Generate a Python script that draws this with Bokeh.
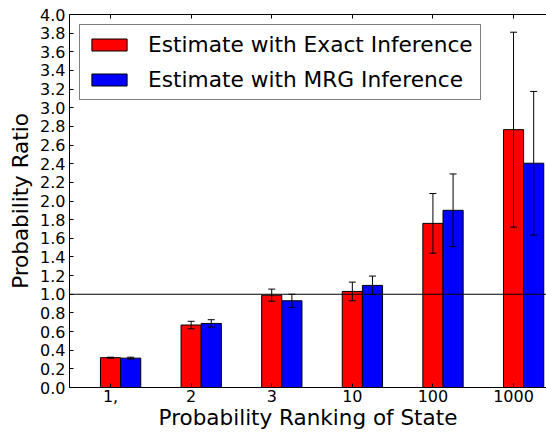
from bokeh.plotting import figure
from bokeh.models import (Range1d, Span, Whisker, ColumnDataSource, LinearAxis,
                          FixedTicker, Legend, LegendItem, TeeHead, NumeralTickFormatter)
from bokeh.embed import file_html
from bokeh.resources import INLINE

categories = ["1,", "2", "3", "10", "100", "1000"]
exact_vals = [0.32, 0.67, 0.99, 1.03, 1.76, 2.765]
exact_errs = [0.005, 0.04, 0.065, 0.10, 0.32, 1.045]
mrg_vals = [0.315, 0.687, 0.93, 1.095, 1.90, 2.405]
mrg_errs = [0.01, 0.04, 0.07, 0.10, 0.39, 0.77]
y_ticks = [0.0, 0.2, 0.4, 0.6, 0.8, 1.0, 1.2, 1.4, 1.6, 1.8, 2.0,
           2.2, 2.4, 2.6, 2.8, 3.0, 3.2, 3.4, 3.6, 3.8, 4.0]
reference_line = 1.0

FONT = "DejaVu Sans"
bar_w = 0.25
idx = list(range(len(categories)))
x_exact = [i for i in idx]
x_mrg = [i + bar_w for i in idx]

p = figure(width=546, height=433, output_backend="svg", toolbar_location=None,
           x_range=Range1d(-0.509, 5.409), y_range=Range1d(0, 4),
           min_border_left=69, min_border_right=0, min_border_top=14, min_border_bottom=46,
           x_axis_label="Probability Ranking of State", y_axis_label="Probability Ratio")
p.outline_line_color = None
p.xgrid.visible = False
p.ygrid.visible = False
p.background_fill_color = "white"
p.border_fill_color = "white"

src_e = ColumnDataSource(dict(x=x_exact, top=exact_vals,
                              upper=[v + e for v, e in zip(exact_vals, exact_errs)],
                              lower=[v - e for v, e in zip(exact_vals, exact_errs)]))
src_m = ColumnDataSource(dict(x=x_mrg, top=mrg_vals,
                              upper=[v + e for v, e in zip(mrg_vals, mrg_errs)],
                              lower=[v - e for v, e in zip(mrg_vals, mrg_errs)]))

r1 = p.vbar(x="x", top="top", width=bar_w, source=src_e, fill_color="#ff0000",
            line_color="black", line_width=1)
r2 = p.vbar(x="x", top="top", width=bar_w, source=src_m, fill_color="#0000ff",
            line_color="black", line_width=1)

for src in (src_e, src_m):
    w = Whisker(base="x", upper="upper", lower="lower", source=src,
                line_color="black", line_width=1, level="annotation",
                upper_head=TeeHead(size=7, line_color="black", line_width=1),
                lower_head=TeeHead(size=7, line_color="black", line_width=1))
    p.add_layout(w)

p.add_layout(Span(location=reference_line, dimension="width", line_color="black", line_width=1))

xt = FixedTicker(ticks=idx, minor_ticks=[])
p.xaxis.ticker = xt
p.xaxis.major_label_overrides = {i: c for i, c in zip(idx, categories)}
p.yaxis.ticker = FixedTicker(ticks=y_ticks, minor_ticks=[])
p.yaxis.formatter = NumeralTickFormatter(format="0.0")

for ax in (p.xaxis[0], p.yaxis[0]):
    ax.major_tick_in = 4
    ax.major_tick_out = 0
    ax.minor_tick_in = 0
    ax.minor_tick_out = 0
    ax.axis_line_color = "black"
    ax.major_tick_line_color = "black"
    ax.major_label_text_font = FONT
    ax.major_label_text_font_size = "16px"
    ax.major_label_text_color = "black"
    ax.axis_label_text_font = FONT
    ax.axis_label_text_font_size = "21.5px"
    ax.axis_label_text_font_style = "normal"
    ax.axis_label_text_color = "black"

p.xaxis.major_label_standoff = 2
p.xaxis.axis_label_standoff = 0
p.yaxis.major_label_standoff = 4
p.yaxis.axis_label_standoff = 4

top_ax = LinearAxis(ticker=xt, major_tick_in=4, major_tick_out=0, minor_tick_in=0,
                    minor_tick_out=0, major_label_standoff=0, axis_line_color="black",
                    major_label_overrides={i: "" for i in idx})
p.add_layout(top_ax, "above")

legend = Legend(items=[LegendItem(label="Estimate with Exact Inference", renderers=[r1]),
                       LegendItem(label="Estimate with MRG Inference", renderers=[r2])],
                location="top_left", margin=10, padding=7, spacing=10,
                glyph_width=44, glyph_height=15, label_standoff=17,
                label_text_font=FONT, label_text_font_size="21.7px", label_text_color="black",
                border_line_color="black", border_line_width=1, background_fill_color="white",
                background_fill_alpha=1.0)
p.add_layout(legend)

open("out.html", "w").write(file_html(p, INLINE))
